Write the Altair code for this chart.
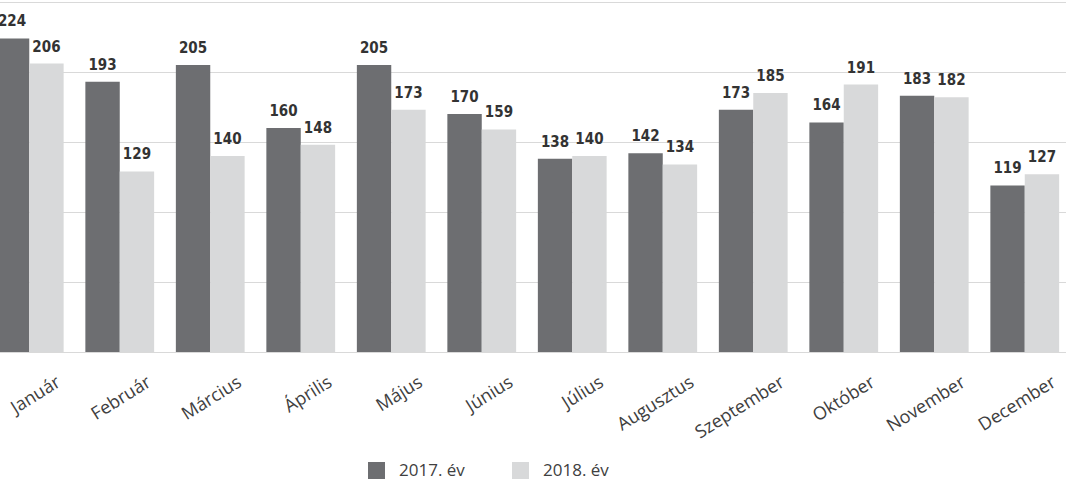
import altair as alt
import pandas as pd

months = ["Január", "Február", "Március", "Április", "Május", "Június",
          "Július", "Augusztus", "Szeptember", "Október", "November", "December"]
series = ["2017. év", "2018. év"]
v2017 = [224, 193, 205, 160, 205, 170, 138, 142, 173, 164, 183, 119]
v2018 = [206, 129, 140, 148, 173, 159, 140, 134, 185, 191, 182, 127]
grid_values = [0, 50, 100, 150, 200, 250]
colors = ["#6d6e71", "#d8d9da"]

rows = []
for m, a, b in zip(months, v2017, v2018):
    rows.append({"month": m, "series": series[0], "value": a})
    rows.append({"month": m, "series": series[1], "value": b})
df = pd.DataFrame(rows)

base = alt.Chart(df).encode(
    x=alt.X("month:N", sort=months, title=None,
            scale=alt.Scale(range=[-16, 1070], paddingInner=0.24, paddingOuter=0.12),
            axis=alt.Axis(domain=False, ticks=False, labelAngle=328, labelAlign="right",
                          labelBaseline="top", labelOffset=25, labelPadding=21,
                          labelFont="Open Sans", labelFontSize=18, labelColor="#404040")),
    xOffset=alt.XOffset("series:N", sort=series,
                        scale=alt.Scale(paddingInner=0, paddingOuter=0)),
    y=alt.Y("value:Q", title=None, scale=alt.Scale(domain=[0, 250]),
            axis=alt.Axis(values=grid_values, domain=False, ticks=False, labels=False,
                          grid=True, gridColor="#d9d9d9", gridWidth=1.2)),
)

bars = base.mark_bar().encode(
    color=alt.Color("series:N", sort=series,
                    scale=alt.Scale(domain=series, range=colors),
                    legend=alt.Legend(title=None, orient="none", legendX=368, legendY=460,
                                      direction="horizontal", symbolType="square",
                                      symbolSize=289, symbolStrokeWidth=0,
                                      labelFont="Open Sans", labelFontSize=17,
                                      labelColor="#404040", labelOffset=14,
                                      columnPadding=47)),
)

text = base.mark_text(font="DejaVu Sans Condensed", fontWeight="bold", fontSize=15,
                      color="#333333", baseline="alphabetic", dy=-12).encode(
    text="value:Q"
)

chart = (bars + text).properties(
    width=1066, height=350,
    autosize=alt.AutoSizeParams(type="none"),
    padding={"left": 0, "top": 2, "right": 0, "bottom": 127},
    background="white",
).configure_view(stroke=None)

chart.save("out.html", embed_options={"renderer": "svg", "actions": False})
